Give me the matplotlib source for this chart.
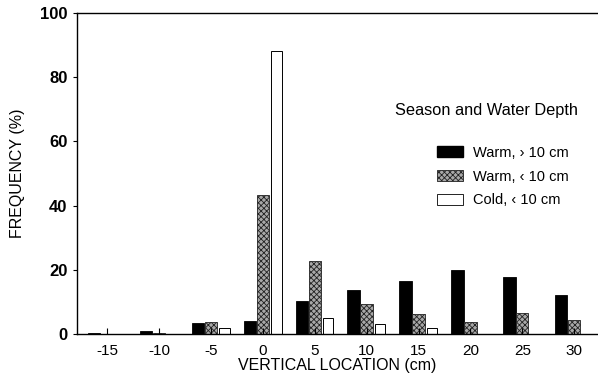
import numpy as np
import matplotlib.pyplot as plt
from matplotlib.patches import Patch

plt.rcParams['font.family'] = ['Liberation Sans', 'DejaVu Sans']
plt.rcParams['hatch.linewidth'] = 0.6
plt.rcParams['axes.unicode_minus'] = False

# data
locations = [-15, -10, -5, 0, 5, 10, 15, 20, 25, 30]
warm_deep = [0.4, 0.8, 3.5, 4.0, 10.4, 13.6, 16.5, 19.9, 17.8, 12.0]
warm_shallow = [0.1, 0.3, 3.8, 43.3, 22.8, 9.4, 6.2, 3.7, 6.5, 4.5]
cold_shallow = [0.0, 0.0, 2.0, 88.0, 5.0, 3.1, 2.0, 0.0, 0.0, 0.0]
labels = ['Warm, \u203a 10 cm', 'Warm, \u2039 10 cm', 'Cold, \u2039 10 cm']

fig = plt.figure(figsize=(5.98, 3.80), dpi=100)
ax = fig.add_axes([0.129, 0.121, 0.871, 0.845])

x = np.array(locations, dtype=float)
w = 1.2
ax.bar(x - 1.25, warm_deep, width=w, color='black', edgecolor='black', linewidth=0.6)
ax.bar(x, warm_shallow, width=w, facecolor='#a8a8a8', edgecolor='#222222',
       hatch='xxxxxx', linewidth=0.6)
ax.bar(x + 1.3, cold_shallow, width=w - 0.2, facecolor='white', edgecolor='black', linewidth=0.7)

ax.set_xlim(-17.9, 32.3)
ax.set_ylim(0, 100)
ax.set_xticks(locations)
ax.set_yticks([0, 20, 40, 60, 80, 100])
ax.tick_params(axis='x', direction='in', length=4, labelsize=11, pad=7)
ax.tick_params(axis='y', direction='out', length=3, labelsize=12, pad=4)
for t in ax.get_yticklabels():
    t.set_fontweight('bold')
ax.spines['right'].set_visible(False)
for s in ['left', 'top', 'bottom']:
    ax.spines[s].set_linewidth(1.0)

ax.set_xlabel('VERTICAL LOCATION (cm)', fontsize=11.5, labelpad=0)
ax.set_ylabel('FREQUENCY (%)', fontsize=11.5, labelpad=11)

# legend
ax.text(0.61, 0.695, 'Season and Water Depth', transform=ax.transAxes,
        fontsize=11.8, ha='left', va='center')
handles = [Patch(facecolor='black', edgecolor='black'),
           Patch(facecolor='#a8a8a8', edgecolor='#222222', hatch='xxxxxx', linewidth=0.6),
           Patch(facecolor='white', edgecolor='black', linewidth=0.6)]
ax.legend(handles, labels, loc='upper left', bbox_to_anchor=(0.68, 0.605),
          frameon=False, fontsize=10.5, handlelength=1.75, handleheight=0.85,
          labelspacing=0.68, handletextpad=0.7, borderaxespad=0)

plt.savefig('out.png', dpi=100)
